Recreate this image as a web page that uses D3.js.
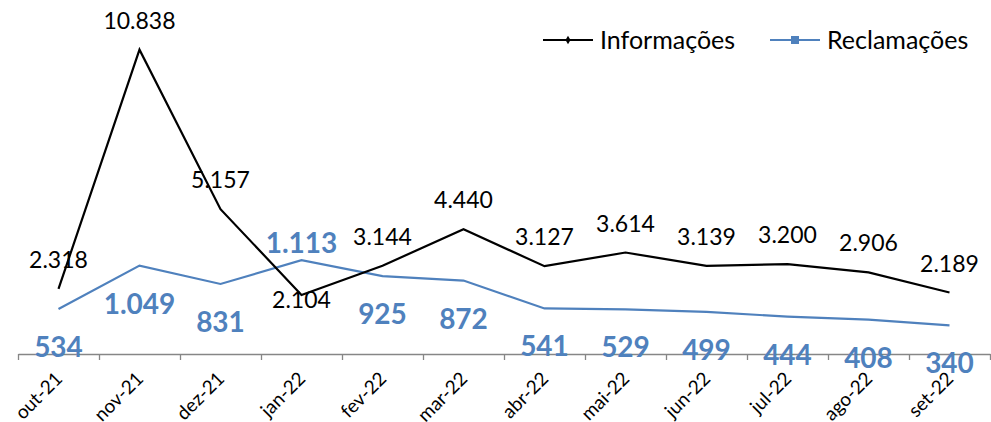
<!DOCTYPE html>
<html>
<head>
<meta charset="utf-8">
<script src="https://cdn.jsdelivr.net/npm/d3@7"></script>
<style>
  body { margin: 0; background: #fff; }
  svg { display: block; font-family: Lato, "Open Sans", sans-serif; }
</style>
</head>
<body>
<div id="chart"></div>
<script>
        // data
        const months = ["out-21", "nov-21", "dez-21", "jan-22", "fev-22", "mar-22",
            "abr-22", "mai-22", "jun-22", "jul-22", "ago-22", "set-22"];
        const informacoes = [2318, 10838, 5157, 2104, 3144, 4440, 3127, 3614, 3139, 3200, 2906, 2189];
        const reclamacoes = [534, 1049, 831, 1113, 925, 872, 541, 529, 499, 444, 408, 340];
        const seriesNames = ["Informações", "Reclamações"];

        // label placement (above / below the point)
        const infoLabelPos = ["a", "a", "a", "b", "a", "a", "a", "a", "a", "a", "a", "a"];
        const reclLabelPos = ["b", "b", "b", "a", "b", "b", "b", "b", "b", "b", "b", "b"];

        const width = 991, height = 422;
        const plotLeft = 18, plotRight = 990, plotBottom = 354, plotTop = 17;
        const blue = "#4F81BD";

        const svg = d3.select("#chart")
            .append("svg")
            .attr("width", width)
            .attr("height", height);

        const x = d3.scaleBand()
            .domain(months)
            .range([plotLeft, plotRight]);

        // primary and secondary y axes (hidden)
        const yL = d3.scaleLinear().domain([0, 12000]).range([plotBottom, plotTop]);
        const yR = d3.scaleLinear().domain([0, 4000]).range([plotBottom, plotTop]);

        // x axis with ticks between categories
        const xb = d3.scaleLinear().domain([0, months.length]).range([plotLeft, plotRight]);
        const ax = svg.append("g")
            .attr("transform", `translate(0, ${plotBottom})`)
            .call(d3.axisBottom(xb).ticks(months.length).tickSize(6).tickFormat("").tickSizeOuter(0));
        ax.select(".domain").attr("stroke", "#868686").attr("stroke-width", 1.3);
        ax.selectAll(".tick line").attr("stroke", "#868686").attr("stroke-width", 1.3);

        svg.append("g")
            .selectAll("text")
            .data(months)
            .join("text")
            .attr("transform", d => `translate(${x(d) + x.bandwidth() / 2 + 5}, ${plotBottom + 26}) rotate(-45)`)
            .attr("text-anchor", "end")
            .attr("font-size", "19px")
            .attr("fill", "#000")
            .text(d => d);

        const cx = (d, i) => x(months[i]) + x.bandwidth() / 2;

        // lines
        const lineL = d3.line().x((d, i) => cx(d, i)).y(d => yL(d));
        const lineR = d3.line().x((d, i) => cx(d, i)).y(d => yR(d));

        svg.append("path")
            .datum(reclamacoes)
            .attr("fill", "none")
            .attr("stroke", blue)
            .attr("stroke-width", 2.2)
            .attr("d", lineR);

        svg.append("path")
            .datum(informacoes)
            .attr("fill", "none")
            .attr("stroke", "#000")
            .attr("stroke-width", 2.2)
            .attr("d", lineL);

        const fmt = d3.formatLocale({ decimal: ",", thousands: ".", grouping: [3], currency: ["", ""] }).format(",");

        // labels
        svg.selectAll(".infoLabel")
            .data(informacoes)
            .join("text")
            .attr("class", "infoLabel")
            .attr("x", (d, i) => cx(d, i))
            .attr("y", (d, i) => yL(d) + (infoLabelPos[i] === "a" ? -21 : 13))
            .attr("text-anchor", "middle")
            .attr("font-size", "23px")
            .attr("fill", "#000")
            .text(d => fmt(d));

        svg.selectAll(".reclLabel")
            .data(reclamacoes)
            .join("text")
            .attr("class", "reclLabel")
            .attr("x", (d, i) => cx(d, i))
            .attr("y", (d, i) => yR(d) + (reclLabelPos[i] === "a" ? -7 : 48))
            .attr("text-anchor", "middle")
            .attr("font-size", "28px")
            .attr("font-weight", "bold")
            .attr("fill", blue)
            .text(d => fmt(d));

        // legend
        const legend = svg.append("g").attr("transform", "translate(543, 40)");
        const items = [
            { name: seriesNames[0], color: "#000", x: 0 },
            { name: seriesNames[1], color: blue, x: 227 }
        ];
        const li = legend.selectAll("g")
            .data(items)
            .join("g")
            .attr("transform", d => `translate(${d.x}, 0)`);
        li.append("line")
            .attr("x1", 0).attr("x2", 50)
            .attr("stroke", d => d.color)
            .attr("stroke-width", 2.2);
        li.filter((d, i) => i === 0).append("path")
            .attr("d", d3.symbol(d3.symbolDiamond, 22))
            .attr("transform", "translate(25, 0)")
            .attr("fill", "#000");
        li.filter((d, i) => i === 1).append("rect")
            .attr("x", 21).attr("y", -4).attr("width", 8).attr("height", 8)
            .attr("fill", blue);
        li.append("text")
            .attr("x", 57)
            .attr("dy", "0.35em")
            .attr("font-size", "25px")
            .attr("fill", "#000")
            .text(d => d.name);
</script>
</body>
</html>
